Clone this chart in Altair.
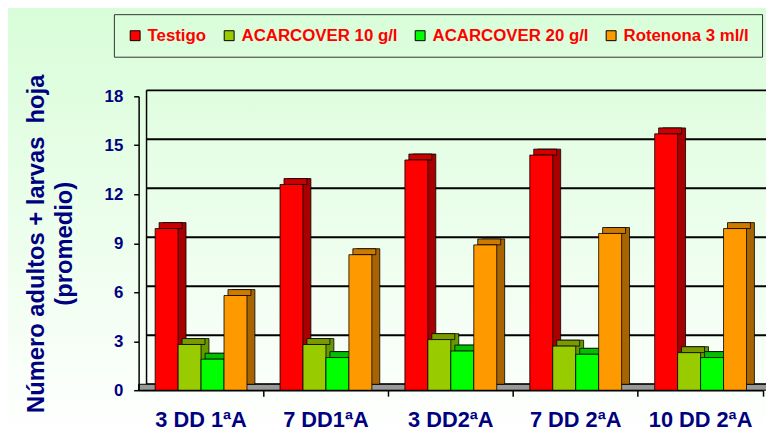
import altair as alt
import pandas as pd

# ---- data ----
categories = ["3 DD 1ªA", "7 DD1ªA", "3 DD2ªA", "7 DD 2ªA", "10 DD 2ªA"]
series_names = ["Testigo", "ACARCOVER 10 g/l", "ACARCOVER 20 g/l", "Rotenona 3 ml/l"]
testigo = [9.9, 12.6, 14.1, 14.4, 15.7]
acarcover10 = [2.8, 2.8, 3.1, 2.7, 2.3]
acarcover20 = [1.9, 2.0, 2.4, 2.2, 2.0]
rotenona = [5.8, 8.3, 8.9, 9.6, 9.9]
y_ticks = [0, 3, 6, 9, 12, 15, 18]
y_title = ["Número adultos + larvas \u00a0hoja", "(promedio)"]

# ---- styles ----
front_colors = ["#ff0000", "#99cc00", "#00ff00", "#ff9900"]
side_colors = ["#a80000", "#669900", "#00aa00", "#a86400"]
top_colors = ["#cc0000", "#7a9a00", "#00c000", "#cc7a00"]
NAVY = "#000080"
FONT = "Liberation Sans"
W, H = 631, 297
DX, DY = 8, -6
BAND = W / len(categories)

values_by_series = [testigo, acarcover10, acarcover20, rotenona]
rows = []
for i, c in enumerate(categories):
    for s, vals, sc, tc in zip(series_names, values_by_series, side_colors, top_colors):
        rows.append({"cat": c, "series": s, "value": vals[i], "side": sc, "top": tc})
df = pd.DataFrame(rows)

yscale = alt.Scale(domain=[0, 18], nice=False, zero=True)
xscale = alt.Scale(paddingInner=0, paddingOuter=0)
yaxis = alt.Axis(values=y_ticks, grid=False, domain=True, domainColor="black",
                 domainWidth=1.5, ticks=True, tickSize=5, tickColor="black",
                 tickWidth=1.5, labelFont=FONT, labelFontSize=17,
                 labelFontWeight="bold", labelColor=NAVY, labelPadding=11,
                 title=y_title,
                 titleFont=FONT, titleFontSize=24, titleFontWeight="bold",
                 titleColor=NAVY, titleLineHeight=28, titlePadding=28,
                 orient="left", zindex=2)


def xoff(shift):
    return alt.XOffset("series:N", sort=series_names,
                       scale=alt.Scale(paddingInner=0, paddingOuter=0.72,
                                       range=[shift, BAND + shift]))


bg = alt.Chart(alt.Data(values=[{"a": 1}])).mark_rect(
    color=alt.LinearGradient(
        gradient="linear", x1=0, x2=0, y1=0, y2=1,
        stops=[alt.GradientStop(offset=0, color="#d8fdd8"),
               alt.GradientStop(offset=1, color="#ffffff")])
).encode(x=alt.value(-140), x2=alt.value(W + 10),
         y=alt.value(-95), y2=alt.value(H + 50))

grid = alt.Chart(pd.DataFrame({"value": y_ticks})).mark_rule(
    color="black", strokeWidth=2, yOffset=DY
).encode(x=alt.value(DX), x2=alt.value(W + DX),
         y=alt.Y("value:Q", scale=yscale, axis=yaxis))

wall = alt.Chart(pd.DataFrame({"value": [18], "v0": [0]})).mark_rule(
    color="black", strokeWidth=1.5, yOffset=DY, y2Offset=DY
).encode(x=alt.value(DX), y=alt.Y("value:Q", scale=yscale, axis=yaxis),
         y2=alt.Y2("v0:Q"))

floor = alt.Chart(pd.DataFrame({"value": [0]})).mark_rect(
    color="#999999", stroke="black", strokeWidth=1, yOffset=DY
).encode(x=alt.value(0), x2=alt.value(W + DX),
         y=alt.Y("value:Q", scale=yscale, axis=yaxis), y2=alt.Y2("value:Q"))

side = alt.Chart(df).mark_bar(
    stroke="black", strokeWidth=0.8, yOffset=DY, y2Offset=DY
).encode(
    x=alt.X("cat:N", sort=categories, scale=xscale,
            axis=alt.Axis(orient="bottom", labels=False, ticks=True, tickSize=6,
                          tickColor="black", tickWidth=1.5, domain=True,
                          domainColor="black", domainWidth=1.5, bandPosition=1,
                          title=None, grid=False, zindex=2)),
    xOffset=xoff(DX),
    y=alt.Y("value:Q", scale=yscale, axis=yaxis),
    color=alt.Color("side:N", scale=None),
)

top = alt.Chart(df).mark_bar(
    stroke="black", strokeWidth=0.8, yOffset=DY
).encode(
    x=alt.X("cat:N", sort=categories, scale=xscale, axis=None),
    xOffset=xoff(DX / 2),
    y=alt.Y("value:Q", scale=yscale, axis=yaxis),
    y2=alt.Y2("value:Q"),
    color=alt.Color("top:N", scale=None),
)

front = alt.Chart(df).mark_bar(stroke="black", strokeWidth=0.8).encode(
    x=alt.X("cat:N", sort=categories, scale=xscale,
            axis=alt.Axis(orient="bottom", labels=True, ticks=False, domain=False,
                          labelAngle=0, labelFont=FONT, labelFontSize=22,
                          labelFontWeight="bold", labelColor=NAVY, labelPadding=20,
                          title=None, grid=False, zindex=2)),
    xOffset=xoff(0),
    y=alt.Y("value:Q", scale=yscale, axis=yaxis),
    color=alt.Color("series:N", sort=series_names,
                    scale=alt.Scale(domain=series_names, range=front_colors),
                    legend=alt.Legend(orient="none", legendX=-25, legendY=-83,
                                      direction="horizontal", title=None,
                                      labelFont=FONT, labelFontSize=17,
                                      labelFontWeight="bold", labelColor="#ff0000",
                                      symbolType="square", symbolSize=100,
                                      symbolStrokeColor="black", symbolStrokeWidth=1,
                                      symbolOpacity=1, columnPadding=14,
                                      labelOffset=4, padding=13,
                                      strokeColor="#333333")),
)

chart = alt.layer(bg, grid, wall, floor, side, top, front).resolve_axis(
    x="independent"
).resolve_scale(
    xOffset="independent"
).properties(
    width=W, height=H,
    autosize=alt.AutoSizeParams(type="none"),
    padding={"left": 132, "top": 87, "right": 3, "bottom": 40},
).configure_view(stroke=None).configure_axis(zindex=2).configure(background="#ffffff")

chart.save("out.html", embed_options={"renderer": "svg", "actions": False})
